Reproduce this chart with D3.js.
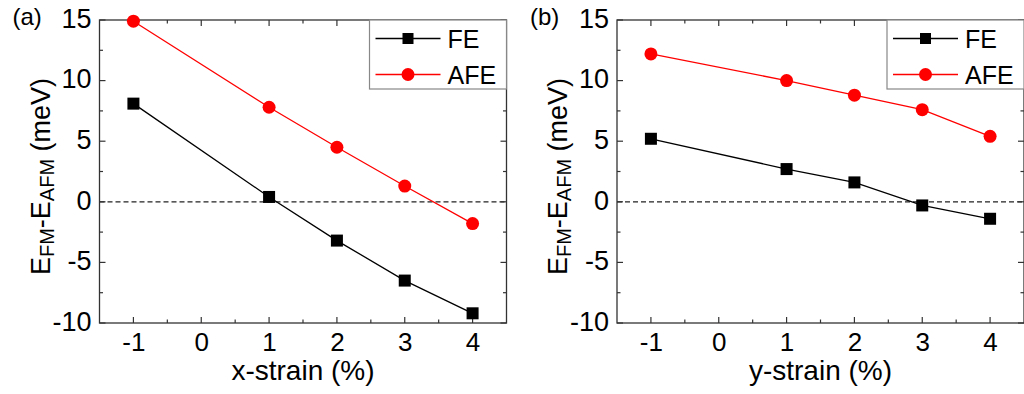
<html>
<head>
  <meta charset="utf-8">
  <style type="text/css">
    body { margin: 0; background: #fff; }
    svg text { font-family: "Liberation Sans", Arial, sans-serif; fill: #000; }
  </style>
</head>
<body>
  <div id="viz"></div>
  <script src="https://cdnjs.cloudflare.com/ajax/libs/d3/7.8.5/d3.min.js"></script>
  <script>
  // strain values (%)
  const strains = [-1, 1, 2, 3, 4];

  // panel (a): x-strain
  const feX = [8.1, 0.4, -3.2, -6.5, -9.2];
  const afeX = [14.9, 7.8, 4.5, 1.3, -1.8];

  // panel (b): y-strain
  const feY = [5.2, 2.7, 1.6, -0.3, -1.4];
  const afeY = [12.2, 10.0, 8.8, 7.6, 5.4];

  const xTicks = [-1, 0, 1, 2, 3, 4];
  const xMinor = [-0.5, 0.5, 1.5, 2.5, 3.5];
  const yTicks = [-10, -5, 0, 5, 10, 15];
  const yMinor = [-7.5, -2.5, 2.5, 7.5, 12.5];
  const seriesNames = ['FE', 'AFE'];

  const svg = d3.select('#viz').append('svg')
    .attr('width', 1024)
    .attr('height', 394);

  const drawPanel = (left, tag, xTitle, fe, afe) => {
    const top = 20, width = 407, height = 303;

    const x = d3.scaleLinear().domain([-1.5, 4.5]).range([0, width]);
    const y = d3.scaleLinear().domain([-10, 15]).range([height, 0]);

    const g = svg.append('g')
      .attr('transform', 'translate(' + left + ',' + top + ')');

    // zero line
    g.append('line')
      .attr('x1', 0).attr('x2', width)
      .attr('y1', y(0)).attr('y2', y(0))
      .attr('stroke', '#222')
      .attr('stroke-width', 1.2)
      .attr('stroke-dasharray', '5,3');

    // frame
    g.append('rect')
      .attr('width', width).attr('height', height)
      .attr('fill', 'none')
      .attr('stroke', '#333')
      .attr('stroke-width', 1.3);

    // inward ticks on all four sides
    const tickGroup = g.append('g').attr('stroke', '#333').attr('stroke-width', 1.2);
    const addTicks = (vals, len) => {
      vals.forEach((v) => {
        tickGroup.append('line').attr('x1', x(v)).attr('x2', x(v)).attr('y1', height).attr('y2', height - len);
        tickGroup.append('line').attr('x1', x(v)).attr('x2', x(v)).attr('y1', 0).attr('y2', len);
      });
    };
    const addYTicks = (vals, len) => {
      vals.forEach((v) => {
        tickGroup.append('line').attr('y1', y(v)).attr('y2', y(v)).attr('x1', 0).attr('x2', len);
        tickGroup.append('line').attr('y1', y(v)).attr('y2', y(v)).attr('x1', width).attr('x2', width - len);
      });
    };
    addTicks(xTicks, 6);
    addTicks(xMinor, 3.5);
    addYTicks(yTicks, 6);
    addYTicks(yMinor, 3.5);

    // tick labels (plain hyphen as in the original)
    const fmt = (d) => String(d);
    const xAxis = g.append('g')
      .attr('transform', 'translate(0,' + height + ')')
      .call(d3.axisBottom(x).tickValues(xTicks).tickSize(0).tickPadding(10).tickFormat(fmt));
    xAxis.select('.domain').remove();
    xAxis.selectAll('text').style('font-size', '26px').attr('font-family', null);

    const yAxis = g.append('g')
      .call(d3.axisLeft(y).tickValues(yTicks).tickSize(0).tickPadding(8).tickFormat(fmt));
    yAxis.select('.domain').remove();
    yAxis.selectAll('text').style('font-size', '27px').attr('dy', '0.27em').attr('font-family', null);

    // axis titles
    g.append('text')
      .attr('x', width / 2)
      .attr('y', 380 - top)
      .attr('text-anchor', 'middle')
      .style('font-size', '28px')
      .text(xTitle);

    const yt = g.append('text')
      .attr('transform', 'translate(-50,' + (height / 2 + 5) + ') rotate(-90)')
      .attr('text-anchor', 'middle')
      .style('font-size', '27px');
    yt.append('tspan').text('E');
    yt.append('tspan').attr('dy', 4).style('font-size', '20px').text('FM');
    yt.append('tspan').attr('dy', -4).text('-E');
    yt.append('tspan').attr('dy', 4).style('font-size', '20px').text('AFM');
    yt.append('tspan').attr('dy', -4).text(' (meV)');

    // panel tag
    svg.append('text')
      .attr('x', left - 87)
      .attr('y', top + 5)
      .style('font-size', '24px')
      .text(tag);

    // series
    const line = d3.line().x((d) => x(d[0])).y((d) => y(d[1]));
    const feData = strains.map((s, i) => [s, fe[i]]);
    const afeData = strains.map((s, i) => [s, afe[i]]);

    g.append('path').datum(feData).attr('d', line)
      .attr('fill', 'none').attr('stroke', '#000').attr('stroke-width', 1.3);
    g.append('path').datum(afeData).attr('d', line)
      .attr('fill', 'none').attr('stroke', '#ff0000').attr('stroke-width', 1.3);

    g.selectAll('rect.fe').data(feData).enter().append('rect')
      .attr('class', 'fe')
      .attr('x', (d) => x(d[0]) - 6).attr('y', (d) => y(d[1]) - 6)
      .attr('width', 12).attr('height', 12)
      .attr('fill', '#000');
    g.selectAll('circle.afe').data(afeData).enter().append('circle')
      .attr('class', 'afe')
      .attr('cx', (d) => x(d[0])).attr('cy', (d) => y(d[1]))
      .attr('r', 6.5)
      .attr('fill', '#ff0000');

    // legend
    const lg = g.append('g').attr('transform', 'translate(' + (width - 137) + ',0)');
    lg.append('rect')
      .attr('width', 137).attr('height', 69)
      .attr('fill', '#fff')
      .attr('stroke', '#888')
      .attr('stroke-width', 1.2);
    const colors = ['#000', '#ff0000'];
    seriesNames.forEach((name, i) => {
      const ry = 18.5 + i * 36;
      lg.append('line')
        .attr('x1', 6).attr('x2', 71)
        .attr('y1', ry).attr('y2', ry)
        .attr('stroke', colors[i]).attr('stroke-width', 1.3);
      if (i === 0) {
        lg.append('rect').attr('x', 33).attr('y', ry - 5.5).attr('width', 11).attr('height', 11).attr('fill', colors[i]);
      } else {
        lg.append('circle').attr('cx', 38.5).attr('cy', ry).attr('r', 6.5).attr('fill', colors[i]);
      }
      lg.append('text')
        .attr('x', 78).attr('y', ry + 9)
        .style('font-size', '25px')
        .text(name);
    });
  };

  drawPanel(99.5, '(a)', 'x-strain (%)', feX, afeX);
  drawPanel(617, '(b)', 'y-strain (%)', feY, afeY);
  </script>
</body>
</html>
